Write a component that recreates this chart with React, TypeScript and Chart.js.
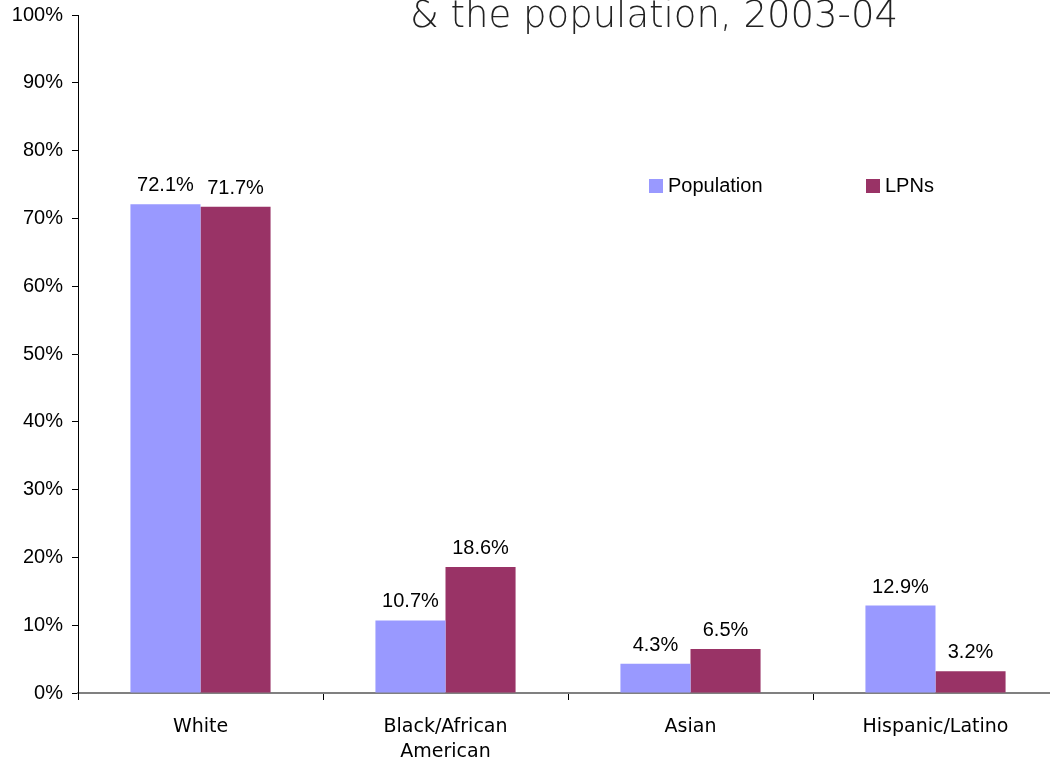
import React, { useEffect, useRef } from "react";
import { Chart, registerables } from "chart.js";

Chart.register(...registerables);

const categories: (string | string[])[] = ["White", ["Black/African", "American"], "Asian", "Hispanic/Latino"];
const populationValues = [72.1, 10.7, 4.3, 12.9];
const lpnValues = [71.7, 18.6, 6.5, 3.2];
const yTicks = [0, 10, 20, 30, 40, 50, 60, 70, 80, 90, 100];
const titleText = "& the population, 2003-04";
const seriesNames = ["Population", "LPNs"];
const seriesColors = ["#9999FF", "#993366"];

const SHIFT = 6;

const labelPlugin = {
  id: "valueLabels",
  afterDatasetsDraw(chart: any) {
    const ctx = chart.ctx;
    ctx.save();
    ctx.font = "20px 'Liberation Sans', Arial, sans-serif";
    ctx.fillStyle = "#000";
    ctx.textAlign = "center";
    ctx.textBaseline = "alphabetic";
    chart.data.datasets.forEach((ds: any, di: number) => {
      const meta = chart.getDatasetMeta(di);
      meta.data.forEach((el: any, i: number) => {
        ctx.fillText(ds.data[i].toFixed(1) + "%", el.x, el.y - 13);
      });
    });
    ctx.restore();
  },
};

const titleLegendPlugin = {
  id: "titleLegend",
  afterDraw(chart: any) {
    const ctx = chart.ctx;
    ctx.save();
    ctx.font = "200 37px 'DejaVu Sans', sans-serif";
    ctx.fillStyle = "#222";
    ctx.textAlign = "center";
    ctx.textBaseline = "alphabetic";
    ctx.fillText(titleText, 654, 27 + SHIFT);
    const items = [
      { x: 649, name: seriesNames[0], color: seriesColors[0] },
      { x: 866, name: seriesNames[1], color: seriesColors[1] },
    ];
    ctx.font = "20px 'Liberation Sans', Arial, sans-serif";
    ctx.textAlign = "left";
    ctx.textBaseline = "middle";
    items.forEach((it) => {
      ctx.fillStyle = it.color;
      ctx.fillRect(it.x, 179 + SHIFT, 14, 14);
      ctx.fillStyle = "#000";
      ctx.fillText(it.name, it.x + 19, 186 + SHIFT);
    });
    ctx.restore();
  },
};

export default function App() {
  const ref = useRef<HTMLCanvasElement>(null);
  useEffect(() => {
    if (!ref.current) return;
    const chart = new Chart(ref.current, {
      type: "bar",
      data: {
        labels: categories as any,
        datasets: [
          { label: seriesNames[0], data: populationValues, backgroundColor: seriesColors[0] },
          { label: seriesNames[1], data: lpnValues, backgroundColor: seriesColors[1] },
        ],
      },
      options: {
        responsive: false,
        animation: false,
        maintainAspectRatio: false,
        layout: { padding: { top: 8, left: 0, right: 0, bottom: 0 } },
        datasets: { bar: { categoryPercentage: 0.572, barPercentage: 1.0 } },
        plugins: { legend: { display: false }, tooltip: { enabled: false }, title: { display: false } },
        scales: {
          x: {
            grid: { display: true, drawOnChartArea: false, drawTicks: true, tickLength: 7, color: "#000", offset: true },
            border: { display: true, color: "#808080", width: 2 },
            ticks: {
              color: "#000",
              font: { family: "'DejaVu Sans', Verdana, sans-serif", size: 19, lineHeight: "25px" },
              padding: 15,
              maxRotation: 0,
              autoSkip: false,
            },
            afterFit(scale: any) {
              scale.height = 70;
            },
          },
          y: {
            min: 0,
            max: 100,
            afterBuildTicks(scale: any) {
              scale.ticks = yTicks.map((v) => ({ value: v }));
            },
            grid: { display: true, drawOnChartArea: false, drawTicks: true, tickLength: 6, color: "#000" },
            border: { display: true, color: "#000", width: 1 },
            ticks: {
              color: "#000",
              font: { family: "'Liberation Sans', Arial, sans-serif", size: 20 },
              padding: 9,
              callback: (v: any) => v + "%",
            },
            afterFit(scale: any) {
              scale.width = 78;
            },
          },
        },
      },
      plugins: [labelPlugin, titleLegendPlugin],
    });
    return () => chart.destroy();
  }, []);
  return (
    <div style={{ position: "fixed", left: 0, top: 0, width: 1050, height: 763, overflow: "hidden", background: "#fff" }}>
      <canvas ref={ref} width={1058} height={769} style={{ width: 1058, height: 769, display: "block", marginTop: -SHIFT }} />
    </div>
  );
}
